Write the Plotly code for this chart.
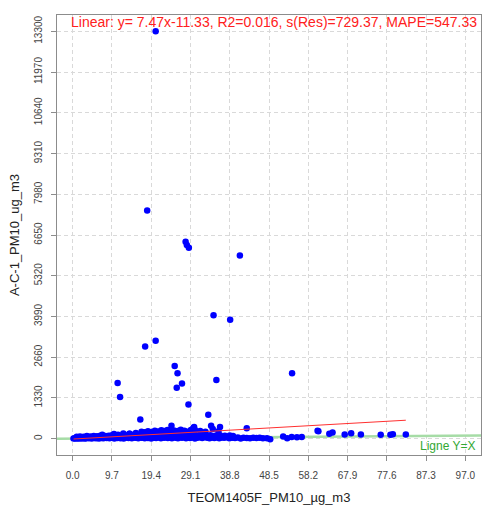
import plotly.graph_objects as go

# reference values
# dense cloud, lower band (y ~ 0-60)
low_x = [0.2, 0.5, 0.8, 1.1, 1.4, 1.7, 2.0, 2.3, 2.6, 3.0, 3.3, 3.6, 4.0, 4.3, 4.7, 5.0, 5.4, 5.8,
         6.1, 6.5, 6.9, 7.2, 7.6, 8.0, 8.4, 8.8, 9.1, 9.5, 9.9, 10.3, 10.7, 11.0, 11.4, 11.8, 12.2,
         12.6, 13.0, 13.4, 13.8, 14.2, 14.6, 15.0, 15.4, 15.8, 16.2, 16.6, 17.0, 17.4, 17.8, 18.2,
         18.6, 19.0, 19.4, 19.8, 20.2, 20.6, 21.0, 21.4, 21.8, 22.2, 22.6, 23.0, 23.5, 24.0, 24.5,
         25.0, 25.5, 26.0, 26.5, 27.0, 27.5, 28.0, 28.5, 29.0, 29.6, 30.2, 30.8, 31.4, 32.0, 32.6,
         33.2, 33.8, 34.4, 35.0, 35.6, 36.2, 36.8, 37.4, 38.0, 38.7, 39.4, 40.1, 40.8, 41.5, 42.2,
         43.0, 43.8, 44.6, 45.4, 46.2, 47.0, 48.0, 48.8]
low_y = [5, 12, 3, 20, 8, 15, 25, 10, 30, 6, 18, 35, 12, 28, 4, 40, 22, 15,
         32, 9, 45, 20, 12, 38, 25, 50, 14, 30, 42, 8, 55, 24, 36, 18, 48,
         10, 33, 58, 20, 44, 15, 52, 28, 38, 12, 60, 30, 45, 18, 55,
         25, 40, 10, 50, 35, 20, 58, 42, 15, 48, 30, 55, 22, 40, 12,
         50, 35, 18, 45, 28, 55, 15, 40, 25, 50, 10, 35, 45, 20, 55,
         30, 12, 42, 25, 50, 18, 38, 28, 45, 15, 35, 22, 40, 10, 30,
         25, 15, 35, 20, 28, 12, 18, -15]

# dense cloud, middle band (y ~ 60-150)
mid_x = [1.0, 1.8, 2.7, 3.5, 4.4, 5.2, 6.0, 6.8, 7.3, 8.1, 8.9, 9.7, 10.5, 11.2, 12.0, 12.8,
         13.6, 14.1, 14.9, 15.7, 16.5, 17.3, 18.1, 18.9, 19.7, 20.5, 21.3, 22.1, 22.9, 23.7,
         24.5, 25.3, 26.1, 26.9, 27.7, 28.5, 29.3, 30.1, 31.0, 32.0, 33.0, 34.0, 35.2, 36.4,
         37.6, 38.8, 39.6]
mid_y = [60, 75, 65, 85, 70, 90, 80, 100, 130, 85, 95, 110, 90, 130, 100, 115,
         105, 160, 120, 95, 130, 110, 140, 120, 100, 135, 115, 145, 125, 105,
         140, 120, 110, 135, 100, 125, 115, 130, 95, 120, 105, 115, 100, 110,
         95, 105, 90]

# dense cloud, upper band (y ~ 150-300)
high_x = [10.2, 12.5, 14.0, 15.6, 17.0, 17.8, 18.6, 19.5, 20.3, 21.1, 21.9, 22.6, 23.4,
          24.2, 25.0, 25.9, 26.7, 27.6, 28.4, 29.2, 29.8, 30.2, 31.5, 32.8, 34.6, 36.0]
high_y = [150, 170, 160, 185, 230, 210, 245, 220, 260, 235, 275, 250, 285,
          240, 270, 255, 295, 261, 230, 285, 350, 284, 250, 230, 317, 240]

# isolated points
out_x = [20.5, 18.4, 27.9, 28.2, 28.7, 41.3, 34.8, 38.9, 20.5, 17.9, 25.2, 25.9, 54.2, 35.5,
         11.1, 27.0, 25.7, 11.7, 28.6, 33.5, 16.7, 24.4, 34.2, 36.4, 30.0, 43.0,
         60.5, 60.7, 63.4, 64.2, 67.2, 68.8, 71.2, 76.1, 78.5, 79.1, 82.3,
         52.0, 53.0, 54.1, 55.4, 56.6]
out_y = [13300, 7450, 6430, 6320, 6230, 5980, 4030, 3880, 3200, 3010, 2375, 2135, 2135, 1920,
         1820, 1800, 1660, 1365, 1120, 785, 630, 420, 425, 380, 380, 340,
         260, 245, 165, 205, 141, 180, 141, 131, 131, 145, 141,
         70, 15, 55, 50, 55]

teom_pm10 = low_x + mid_x + high_x + out_x
ac1_pm10 = low_y + mid_y + high_y + out_y

x_ticks = [0.0, 9.7, 19.4, 29.1, 38.8, 48.5, 58.2, 67.9, 77.6, 87.3, 97.0]
y_ticks = [0, 1330, 2660, 3990, 5320, 6650, 7980, 9310, 10640, 11970, 13300]

slope, intercept = 7.47, -11.33
fit_label = 'Linear: y= 7.47x-11.33, R2=0.016, s(Res)=729.37, MAPE=547.33'

# R-style 4% padding around the tick span
x_range = [x_ticks[0] - 0.04 * x_ticks[-1], x_ticks[-1] * 1.04]
y_range = [y_ticks[0] - 0.04 * y_ticks[-1], y_ticks[-1] * 1.04]

font = 'Liberation Sans, Arial, sans-serif'

fig = go.Figure()

# Y=X reference line
fig.add_trace(go.Scatter(
    x=x_range, y=x_range, mode='lines',
    line=dict(color='#a6dca6', width=2.5),
    hoverinfo='skip',
))

fig.add_trace(go.Scatter(
    x=teom_pm10, y=ac1_pm10, mode='markers',
    marker=dict(color='#0000ff', size=6.5, line_width=0),
    hovertemplate='TEOM: %{x}<br>A-C-1: %{y}<extra></extra>',
))

fit_x = [min(teom_pm10), max(teom_pm10)]
fig.add_trace(go.Scatter(
    x=fit_x, y=[slope * v + intercept for v in fit_x], mode='lines',
    line=dict(color='#ff3030', width=1),
    hoverinfo='skip',
))

axis_common = dict(
    showgrid=True, gridcolor='#d9d9d9', griddash='4px,3px', gridwidth=1,
    zeroline=False,
    showline=True, mirror=True, linecolor='#8c8c8c', linewidth=1,
    ticks='outside', ticklen=5, tickcolor='#8c8c8c',
    tickfont=dict(size=10, color='#444', family=font),
    title_font=dict(size=13, color='#222', family=font),
)

fig.update_layout(
    width=483, height=510,
    margin=dict(l=57, r=2, t=15, b=55),
    plot_bgcolor='white', paper_bgcolor='white',
    showlegend=False,
    font_family=font,
    xaxis=dict(
        axis_common, range=x_range, tickvals=x_ticks,
        ticktext=[f'{v:.1f}' for v in x_ticks],
        ticklabelstandoff=6,
        title=dict(text='TEOM1405F_PM10_µg_m3', standoff=12),
    ),
    yaxis=dict(
        axis_common, range=y_range, tickvals=y_ticks,
        ticktext=[str(v) for v in y_ticks],
        tickangle=-90, ticklabelstandoff=5,
        title=dict(text='A-C-1_PM10_ug_m3', standoff=10),
    ),
    annotations=[
        dict(text=fit_label, xref='paper', yref='paper', x=0.028, y=0.984,
             xanchor='left', yanchor='middle', showarrow=False,
             font=dict(size=14, color='#ff2020', family=font)),
        dict(text='Ligne Y=X', xref='paper', yref='paper', x=0.992, y=0.02,
             xanchor='right', yanchor='middle', showarrow=False,
             font=dict(size=12, color='#33a833', family=font)),
    ],
)

fig.write_html('out.html', config={'displayModeBar': False},
               post_script="document.body.style.margin='0';")
